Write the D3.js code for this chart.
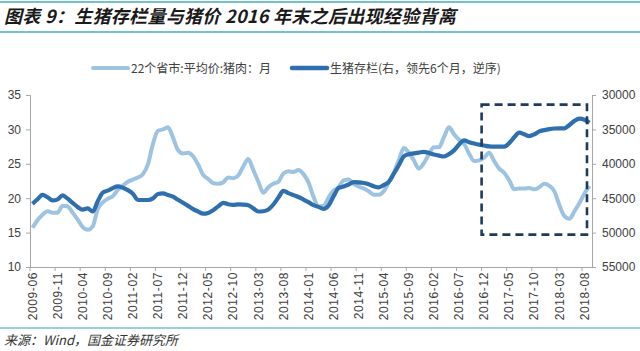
<!DOCTYPE html>
<html>
<head>
<meta charset="utf-8">
<script src="https://cdn.jsdelivr.net/npm/d3@7"></script>
<style>
  body { margin: 0; background: #fff; }
</style>
</head>
<body>
<div id="chart"></div>
<script>
// ---- data ---------------------------------------------------------------
// monthly categories 2009-06 .. 2018-09
const months = d3.timeMonths(new Date(2009, 5, 1), new Date(2018, 9, 1)).map(d3.timeFormat('%Y-%m'));

// 22个省市:平均价:猪肉 (left axis, 元/公斤)
const priceValues = [
  15.7, 16.8, 17.6, 18.1, 17.9, 17.9, 18.9, 18.8, 17.9, 16.9,
  15.8, 15.4, 15.9, 18.4, 19.4, 19.9, 20.3, 21.2, 21.8, 22.4,
  22.7, 23.0, 23.5, 24.9, 27.9, 29.8, 30.0, 30.3, 28.8, 27.0,
  26.5, 26.6, 26.1, 24.9, 23.4, 22.8, 22.2, 22.1, 22.3, 23.0,
  22.9, 23.3, 24.6, 25.7, 24.1, 22.4, 20.8, 21.6, 22.1, 22.4,
  23.6, 23.9, 23.8, 24.1, 23.5, 22.3, 20.2, 18.8, 18.9, 20.1,
  21.1, 21.6, 22.6, 22.7, 22.1, 21.7, 21.4, 21.0, 20.5, 20.5,
  21.0, 22.3, 23.7, 25.5, 27.3, 26.6, 25.5, 24.3, 25.1, 26.4,
  27.4, 27.4, 28.9, 30.3, 29.3, 28.5, 27.9, 26.5, 25.4, 25.5,
  25.9, 26.6, 25.4, 24.3, 23.7, 22.6, 21.3, 21.4, 21.4, 21.5,
  21.3, 21.6, 22.1, 21.8, 21.0, 19.0, 17.4, 17.0, 18.1, 19.3,
  20.7, 21.8
];

// 生猪存栏 (right axis, reversed, 万头)
const stockValues = [
  45830, 45160, 44510, 44860, 45320, 45170, 44580, 45070, 45680, 46280,
  46660, 46480, 46930, 45450, 44200, 43910, 43530, 43290, 43470, 43820,
  44350, 45250, 45260, 45260, 45030, 44380, 44300, 44540, 44780, 45230,
  45670, 46120, 46580, 46930, 47250, 47140, 46740, 46190, 45670, 45870,
  45960, 45900, 45930, 46020, 46480, 46930, 46900, 46660, 45920, 44900,
  43940, 44260, 44550, 44830, 45190, 45570, 46020, 46260, 46570, 46060,
  44720, 43530, 43300, 43010, 42660, 42690, 42790, 42970, 43260, 43420,
  43100, 42630, 41450, 40200, 38910, 38620, 38490, 38370, 38260, 38440,
  38660, 38820, 38940, 38590, 38050, 37210, 36600, 36850, 37060, 37210,
  37340, 37470, 37510, 37510, 37510, 36990, 36150, 35480, 35710, 35970,
  35710, 35280, 35100, 34960, 34870, 34840, 34840, 34360, 33760, 33420,
  33590, 34030
];

const xTickLabels = [
  '2009-06', '2009-11', '2010-04', '2010-09', '2011-02', '2011-07', '2011-12', '2012-05',
  '2012-10', '2013-03', '2013-08', '2014-01', '2014-06', '2014-11', '2015-04', '2015-09',
  '2016-02', '2016-07', '2016-12', '2017-05', '2017-10', '2018-03', '2018-08'
];
const leftTicks = [10, 15, 20, 25, 30, 35];
const rightTicks = [30000, 35000, 40000, 45000, 50000, 55000];

// dashed highlight box (categories + left-axis values)
const boxMonths = ['2016-12', '2018-08'];
const boxRange = [14.7, 33.6];

const priceName = '22个省市:平均价:猪肉：月';
const stockName = '生猪存栏(右，领先6个月，逆序)';

// ---- setup --------------------------------------------------------------
const width = 640;
const height = 351;
const margin = { top: 95, right: 48, bottom: 84, left: 30 };

const lightBlue = '#9dc3e3';
const darkBlue = '#2f6fad';
const teal = '#72c2cc';
const textColor = '#404040';
const axisColor = '#a6a6a6';

const svg = d3.select('#chart').append('svg')
  .attr('width', width)
  .attr('height', height)
  .attr('viewBox', [0, 0, width, height])
  .style('font-family', 'Arial, "Liberation Sans", "Noto Sans CJK SC", sans-serif');

const x = d3.scaleBand()
  .domain(months)
  .range([margin.left, width - margin.right]);

const yL = d3.scaleLinear()
  .domain([10, 35])
  .range([height - margin.bottom, margin.top]);

const yR = d3.scaleLinear()
  .domain([30000, 55000])     // reversed axis: small at top
  .range([margin.top, height - margin.bottom]);

const cx = m => x(m) + x.bandwidth() / 2;

// ---- title & frame lines -----------------------------------------------
svg.append('line').attr('x1', 0).attr('x2', width).attr('y1', 2).attr('y2', 2)
  .attr('stroke', teal).attr('stroke-width', 2);
svg.append('line').attr('x1', 0).attr('x2', width).attr('y1', 32).attr('y2', 32)
  .attr('stroke', teal).attr('stroke-width', 2);

svg.append('text')
  .attr('x', 4).attr('y', 23)
  .attr('font-size', 18)
  .attr('font-weight', 'bold')
  .attr('font-style', 'italic')
  .attr('fill', '#1a1a1a')
  .style('font-family', '"Noto Sans CJK SC", sans-serif')
  .style('letter-spacing', '0.3px')
  .text('图表 9：生猪存栏量与猪价 2016 年末之后出现经验背离');

svg.append('line').attr('x1', 0).attr('x2', width).attr('y1', 328).attr('y2', 328)
  .attr('stroke', teal).attr('stroke-width', 1.5);

svg.append('text')
  .attr('x', 4).attr('y', 345)
  .attr('font-size', 13)
  .attr('font-style', 'italic')
  .attr('fill', '#333')
  .style('font-family', '"Noto Sans CJK SC", sans-serif')
  .text('来源：Wind，国金证券研究所');

// ---- legend -------------------------------------------------------------
const legend = svg.append('g').attr('font-size', 12).attr('fill', textColor)
  .style('font-family', '"Noto Sans CJK SC", sans-serif');

legend.append('line').attr('x1', 93).attr('x2', 128).attr('y1', 68).attr('y2', 68)
  .attr('stroke', lightBlue).attr('stroke-width', 4).attr('stroke-linecap', 'round');
legend.append('text').attr('x', 131).attr('y', 72.5).text(priceName);

legend.append('line').attr('x1', 292).attr('x2', 327).attr('y1', 68).attr('y2', 68)
  .attr('stroke', darkBlue).attr('stroke-width', 4.5).attr('stroke-linecap', 'round');
legend.append('text').attr('x', 330).attr('y', 72.5).text(stockName);

// ---- axes ---------------------------------------------------------------
const leftAxis = svg.append('g')
  .attr('transform', `translate(${margin.left},0)`)
  .call(d3.axisLeft(yL).tickValues(leftTicks).tickSize(4).tickPadding(5));

const rightAxis = svg.append('g')
  .attr('transform', `translate(${width - margin.right},0)`)
  .call(d3.axisRight(yR).tickValues(rightTicks).tickSize(4).tickPadding(6).tickFormat(d3.format('d')));

const bottomAxis = svg.append('g')
  .attr('transform', `translate(0,${height - margin.bottom})`)
  .call(d3.axisBottom(x).tickValues(xTickLabels).tickSize(0).tickPadding(0));

[leftAxis, rightAxis, bottomAxis].forEach(g => {
  g.select('.domain').attr('stroke', axisColor);
  g.selectAll('.tick line').attr('stroke', axisColor);
  g.selectAll('.tick text')
    .attr('fill', textColor)
    .attr('font-size', 12)
    .style('font-family', 'Arial, "Liberation Sans", sans-serif');
});

// tick marks on category axis sit on the band edges
bottomAxis.selectAll('.tick').each(function(d) {
  d3.select(this).append('line')
    .attr('x1', -x.bandwidth() / 2).attr('x2', -x.bandwidth() / 2)
    .attr('y1', 0).attr('y2', 4)
    .attr('stroke', axisColor);
});

bottomAxis.selectAll('.tick text')
  .attr('transform', 'rotate(-90)')
  .attr('text-anchor', 'end')
  .attr('x', -5)
  .attr('y', 0)
  .attr('dy', '0.35em')
  .style('letter-spacing', '0.6px');

// ---- lines --------------------------------------------------------------
const priceLine = d3.line()
  .x((d, i) => cx(months[i]))
  .y(d => yL(d))
  .curve(d3.curveMonotoneX);

const stockLine = d3.line()
  .x((d, i) => cx(months[i]))
  .y(d => yR(d))
  .curve(d3.curveMonotoneX);

svg.append('path')
  .datum(priceValues)
  .attr('d', priceLine)
  .attr('fill', 'none')
  .attr('stroke', lightBlue)
  .attr('stroke-width', 4)
  .attr('stroke-linejoin', 'round');

svg.append('path')
  .datum(stockValues)
  .attr('d', stockLine)
  .attr('fill', 'none')
  .attr('stroke', darkBlue)
  .attr('stroke-width', 4.2)
  .attr('stroke-linejoin', 'round');

// ---- dashed box ---------------------------------------------------------
svg.append('rect')
  .attr('x', x(boxMonths[0]))
  .attr('y', yL(boxRange[1]))
  .attr('width', x(boxMonths[1]) + x.bandwidth() - x(boxMonths[0]))
  .attr('height', yL(boxRange[0]) - yL(boxRange[1]))
  .attr('fill', 'none')
  .attr('stroke', '#1f3b5c')
  .attr('stroke-width', 2.6)
  .attr('stroke-dasharray', '8,5');
</script>
</body>
</html>
